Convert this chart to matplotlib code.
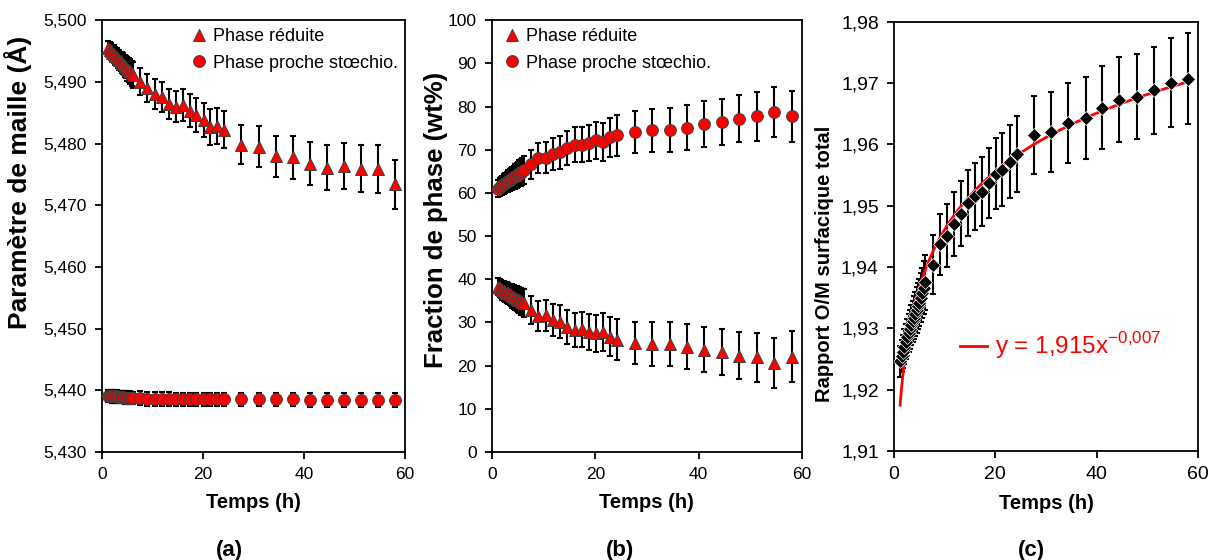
import numpy as np
import matplotlib.pyplot as plt
from matplotlib.ticker import FuncFormatter, MultipleLocator
from matplotlib.lines import Line2D

plt.rcParams["font.family"] = ["Liberation Sans", "DejaVu Sans"]
plt.rcParams["mathtext.fontset"] = "custom"
plt.rcParams["mathtext.rm"] = "Liberation Sans"

# ---------------- data ----------------
time_h = [1.2, 1.5, 1.8, 2.0, 2.3, 2.6, 2.9, 3.1, 3.4, 3.7, 3.9, 4.2, 4.5, 4.8, 5.0,
          5.3, 5.6, 5.9, 6.2,
          7.6, 9.0, 10.4, 11.8, 13.2, 14.6, 16.0, 17.4, 18.7, 20.1, 21.4, 22.8, 24.2,
          27.6, 31.0, 34.4, 37.8, 41.1, 44.5, 47.9, 51.3, 54.6, 58.0]

# (a) lattice parameter (angstrom)
maille_red = [5.4955, 5.4952, 5.4950, 5.4947, 5.4945, 5.4942, 5.4940, 5.4937, 5.4935,
              5.4933, 5.4931, 5.4929, 5.4926, 5.4924, 5.4921, 5.4919, 5.4917, 5.4914,
              5.4911,
              5.4900, 5.4890, 5.4880, 5.4875, 5.4864, 5.4860, 5.4863, 5.4853, 5.4846,
              5.4838, 5.4827, 5.4828, 5.4822,
              5.4798, 5.4795, 5.4779, 5.4778, 5.4767, 5.4761, 5.4764, 5.4759, 5.4759,
              5.4734]
maille_red_err = [0.0012, 0.0012, 0.0013, 0.0013, 0.0014, 0.0014, 0.0015, 0.0015, 0.0016,
                  0.0016, 0.0017, 0.0017, 0.0018, 0.0018, 0.0019, 0.0019, 0.0020, 0.0020,
                  0.0021,
                  0.0022, 0.0023, 0.0024, 0.0024, 0.0025, 0.0025, 0.0026, 0.0027, 0.0027,
                  0.0028, 0.0029, 0.0029, 0.0030,
                  0.0032, 0.0033, 0.0034, 0.0035, 0.0035, 0.0036, 0.0037, 0.0038, 0.0039,
                  0.0040]
maille_sto = [5.4391, 5.4391, 5.4391, 5.4390, 5.4390, 5.4390, 5.4390, 5.4389, 5.4389,
              5.4389, 5.4389, 5.4389, 5.4388, 5.4388, 5.4388, 5.4388, 5.4388, 5.4387,
              5.4387,
              5.4387, 5.4386, 5.4386, 5.4386, 5.4386, 5.4385, 5.4385, 5.4385, 5.4385,
              5.4385, 5.4385, 5.4385, 5.4385,
              5.4385, 5.4385, 5.4385, 5.4385, 5.4384, 5.4384, 5.4384, 5.4384, 5.4384,
              5.4384]
maille_sto_err = [0.0010] * 19 + [0.0011] * 13 + [0.0011] * 10

# (b) phase fraction (wt%)
frac_red = [38.3, 38.0, 37.8, 37.5, 37.3, 37.1, 36.9, 36.7, 36.5, 36.3, 36.1, 35.9, 35.7,
            35.5, 35.3, 35.1, 34.9, 34.7, 34.5,
            32.9, 31.4, 31.6, 30.6, 30.2, 29.0, 28.2, 28.4, 27.8, 27.5, 27.8, 26.7, 26.0,
            25.2, 25.0, 25.1, 24.4, 23.7, 23.1, 22.3, 21.9, 20.7, 22.0]
frac_sto = [61.0, 61.3, 61.5, 61.8, 62.0, 62.3, 62.5, 62.8, 63.0, 63.2, 63.4, 63.6, 63.8,
            64.0, 64.3, 64.5, 64.7, 65.0, 65.3,
            66.6, 68.1, 68.1, 69.1, 69.4, 70.4, 71.2, 71.2, 71.5, 72.2, 71.8, 72.9, 73.3,
            74.1, 74.5, 74.5, 75.1, 75.9, 76.4, 77.2, 77.7, 78.7, 77.7]
frac_err = [2.0, 2.1, 2.1, 2.2, 2.3, 2.3, 2.4, 2.5, 2.5, 2.6, 2.7, 2.7, 2.8, 2.9, 2.9,
            3.0, 3.1, 3.1, 3.2,
            3.3, 3.5, 3.6, 3.7, 3.8, 3.9, 4.0, 4.1, 4.2, 4.3, 4.4, 4.5, 4.7,
            4.9, 5.0, 5.1, 5.2, 5.3, 5.4, 5.5, 5.6, 5.8, 5.9]

# (c) O/M ratio
om_ratio = [1.9246, 1.9255, 1.9262, 1.9270, 1.9278, 1.9285, 1.9292, 1.9298, 1.9305,
            1.9311, 1.9317, 1.9323, 1.9330, 1.9336, 1.9342, 1.9350, 1.9358, 1.9366,
            1.9375,
            1.9404, 1.9437, 1.9451, 1.9470, 1.9487, 1.9504, 1.9515, 1.9523, 1.9537,
            1.9552, 1.9559, 1.9572, 1.9585,
            1.9615, 1.9620, 1.9635, 1.9643, 1.9660, 1.9673, 1.9678, 1.9688, 1.9701,
            1.9707]
om_err = [0.0025, 0.0026, 0.0027, 0.0028, 0.0029, 0.0030, 0.0031, 0.0032, 0.0033, 0.0034,
          0.0035, 0.0036, 0.0037, 0.0038, 0.0039, 0.0040, 0.0041, 0.0043, 0.0045,
          0.0048, 0.0050, 0.0051, 0.0052, 0.0053, 0.0054, 0.0055, 0.0056, 0.0057,
          0.0058, 0.0059, 0.0060, 0.0062,
          0.0064, 0.0065, 0.0066, 0.0067, 0.0068, 0.0069, 0.0070, 0.0071, 0.0073,
          0.0074]

FIT_A = 1.915
FIT_B = 0.007

RED = "#ff0000"
EDGE = "#404040"


def comma_fmt(decimals):
    return FuncFormatter(lambda v, p: f"{v:.{decimals}f}".replace(".", ","))


def style_axes(ax, tick_size=12.5):
    for s in ax.spines.values():
        s.set_linewidth(1.3)
    ax.tick_params(direction="out", length=5, width=1.3, labelsize=tick_size,
                   top=False, right=False, pad=6)
    ax.set_xlim(0, 60)
    ax.xaxis.set_major_locator(MultipleLocator(20))
    ax.set_xlabel("Temps (h)", fontsize=14.5, fontweight="bold", labelpad=8)


def err_points(ax, y, yerr, marker, ms):
    ax.errorbar(time_h, y, yerr=yerr, fmt="none", ecolor="black", elinewidth=1.5,
                capsize=2.5, capthick=1.5, zorder=2)
    ax.plot(time_h, y, linestyle="none", marker=marker, ms=ms, mfc=RED,
            mec=EDGE, mew=0.7, zorder=3)


fig = plt.figure(figsize=(12.09, 5.6), dpi=100)

handles = [Line2D([], [], ls="none", marker="^", ms=9, mfc=RED, mec=EDGE, mew=0.7),
           Line2D([], [], ls="none", marker="o", ms=8.5, mfc=RED, mec=EDGE, mew=0.7)]
labels = ["Phase réduite", "Phase proche stœchio."]

# ---------------- (a) ----------------
ax1 = fig.add_axes([0.0844, 0.193, 0.2506, 0.771])
err_points(ax1, maille_red, maille_red_err, "^", 9)
err_points(ax1, maille_sto, maille_sto_err, "o", 8.5)
ax1.set_ylim(5.430, 5.500)
ax1.yaxis.set_major_locator(MultipleLocator(0.010))
ax1.yaxis.set_major_formatter(comma_fmt(3))
ax1.set_ylabel("Paramètre de maille (Å)", fontsize=19, fontweight="bold")
ax1.yaxis.set_label_coords(-0.232, 0.625)
style_axes(ax1)
ax1.legend(handles, labels, loc="upper right", bbox_to_anchor=(1.02, 1.01),
           frameon=False, fontsize=13, handlelength=0.8, handletextpad=0.4,
           labelspacing=0.5, borderaxespad=0.3)

# ---------------- (b) ----------------
ax2 = fig.add_axes([0.4069, 0.193, 0.2564, 0.771])
err_points(ax2, frac_red, frac_err, "^", 9)
err_points(ax2, frac_sto, frac_err, "o", 8.5)
ax2.set_ylim(0, 100)
ax2.yaxis.set_major_locator(MultipleLocator(10))
ax2.set_ylabel("Fraction de phase (wt%)", fontsize=18.5, fontweight="bold")
ax2.yaxis.set_label_coords(-0.142, 0.537)
style_axes(ax2)
ax2.legend(handles, labels, loc="upper left", bbox_to_anchor=(0.0, 1.01),
           frameon=False, fontsize=13, handlelength=0.8, handletextpad=0.4,
           labelspacing=0.5, borderaxespad=0.3)

# ---------------- (c) ----------------
ax3 = fig.add_axes([0.7395, 0.195, 0.2514, 0.766])
ax3.errorbar(time_h, om_ratio, yerr=om_err, fmt="none", ecolor="black", elinewidth=1.5,
             capsize=2.5, capthick=1.5, zorder=2)
t_fit = np.linspace(time_h[0], time_h[-1], 300)
fit_line, = ax3.plot(t_fit, FIT_A * t_fit ** FIT_B, color=RED, lw=2, zorder=3)
ax3.plot(time_h, om_ratio, linestyle="none", marker="D", ms=7.5, mfc="black",
         mec="white", mew=0.5, zorder=4)
ax3.set_ylim(1.91, 1.98)
ax3.yaxis.set_major_locator(MultipleLocator(0.01))
ax3.yaxis.set_major_formatter(comma_fmt(2))
ax3.set_ylabel("Rapport O/M surfacique total", fontsize=14.5, fontweight="bold")
ax3.yaxis.set_label_coords(-0.197, 0.436)
style_axes(ax3, tick_size=14)
ax3.legend([fit_line], [r"y = 1,915x$^{\mathrm{-0{,}007}}$"], loc="center left",
           bbox_to_anchor=(0.145, 0.245), frameon=False, fontsize=17.5,
           handlelength=1.1, handletextpad=0.35, labelcolor=RED)

for x, s in [(0.19, "(a)"), (0.513, "(b)"), (0.853, "(c)")]:
    fig.text(x, 0.008, s, fontsize=16, fontweight="bold", ha="center")

fig.savefig("out.png", dpi=100)
